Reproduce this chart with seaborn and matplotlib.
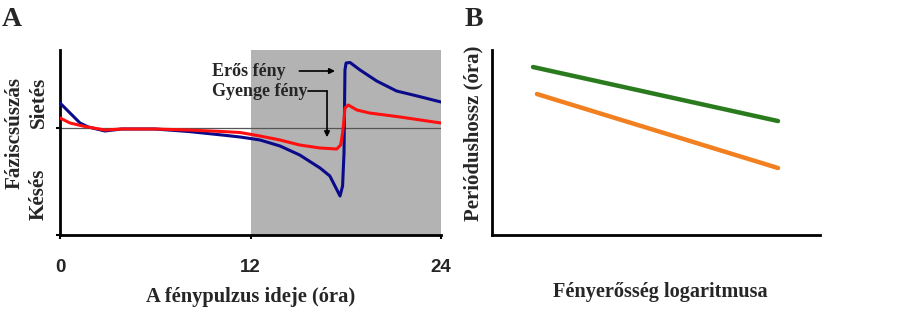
import matplotlib
matplotlib.use("Agg")
import matplotlib.pyplot as plt
import seaborn as sns

sns.set_style("white")
plt.rcParams['font.family'] = ['Liberation Serif', 'DejaVu Serif']
plt.rcParams['font.weight'] = 'bold'

# Panel A data: phase response curves
t_strong = [0, 0.63, 1.26, 1.78, 2.83, 3.88, 5.98, 8.1, 10.2, 11.34, 12.2, 12.6, 13.86, 15.1, 16.38,
            17.0, 17.32, 17.64, 17.8, 17.89, 17.95, 18.02, 18.27, 18.9, 19.95, 21.2, 22.5, 24.0]
y_strong = [0.25, 0.15, 0.05, 0.01, -0.03, -0.01, -0.01, -0.035, -0.07, -0.09, -0.11, -0.12, -0.18, -0.27, -0.40,
            -0.48, -0.58, -0.68, -0.58, -0.25, 0.58, 0.65, 0.655, 0.58, 0.47, 0.37, 0.32, 0.26]
t_weak = [0, 0.63, 1.57, 2.83, 3.88, 5.98, 8.1, 10.2, 11.34, 12.6, 13.86, 15.1, 16.38, 17.43, 17.68,
          17.8, 17.89, 17.95, 18.16, 18.7, 19.5, 21.2, 24.0]
y_weak = [0.10, 0.05, 0.015, -0.02, -0.01, -0.01, -0.02, -0.035, -0.045, -0.08, -0.12, -0.17, -0.20, -0.21, -0.17,
          -0.05, 0.08, 0.20, 0.23, 0.18, 0.15, 0.115, 0.05]

# Panel B data: period length vs log light intensity
b_x_green = [1.25, 8.72]
b_y_green = [9.08, 6.16]
b_x_orange = [1.37, 8.72]
b_y_orange = [7.62, 3.62]

W, H = 905, 327
fig = plt.figure(figsize=(W / 100, H / 100), dpi=100)

def ax_rect(x0, y0, x1, y1):
    return [x0 / W, 1 - y1 / H, (x1 - x0) / W, (y1 - y0) / H]

# ---------------- Panel A ----------------
axA = fig.add_axes(ax_rect(60, 50, 441, 235))
axA.axvspan(12, 24, color='#b3b3b3', zorder=0, lw=0)
axA.axhline(0, color='#555555', lw=0.9, zorder=1)
sns.lineplot(x=t_strong, y=y_strong, ax=axA, color='#0a0a8a', lw=2.2, zorder=3, sort=False)
sns.lineplot(x=t_weak, y=y_weak, ax=axA, color='#ff1010', lw=2.2, zorder=4, sort=False)
axA.set_xlim(0, 24)
axA.set_ylim(-1.07, 0.78)
axA.set_xticks([0, 12, 24])
axA.set_xticklabels(['0', '12', '24'], fontsize=13.5, fontweight='bold', family=['Liberation Sans', 'DejaVu Sans'])
axA.set_yticks([-1.07, 0])
axA.set_yticklabels([])
axA.tick_params(axis='both', direction='out', length=3, width=1.5, color='black', bottom=True, left=True, pad=14)
for s in ['top', 'right']:
    axA.spines[s].set_visible(False)
for s in ['left', 'bottom']:
    axA.spines[s].set_color('black')
    axA.spines[s].set_linewidth(2)
axA.set_xlabel('A fénypulzus ideje (óra)', fontsize=14.8, fontweight='bold', labelpad=8)
axA.set_ylabel('')

fig.text(15 / W, 1 - 133 / H, 'Fáziscsúszás', rotation=90, ha='center', va='center', fontsize=15.2, fontweight='bold')
fig.text(39 / W, 1 - 102 / H, 'Sietés', rotation=90, ha='center', va='center', fontsize=15.2, fontweight='bold')
fig.text(39 / W, 1 - 194 / H, 'Késés', rotation=90, ha='center', va='center', fontsize=15.2, fontweight='bold')

axA.annotate('', xy=(17.5, 0.57), xytext=(14.9, 0.57),
             arrowprops=dict(arrowstyle='-|>', color='black', lw=1.2, mutation_scale=8))
axA.text(9.57, 0.57, 'Erős fény', ha='left', va='center', fontsize=13, fontweight='bold')
axA.text(9.57, 0.37, 'Gyenge fény', ha='left', va='center', fontsize=13, fontweight='bold')
axA.plot([15.6, 16.82], [0.37, 0.37], color='black', lw=1.2)
axA.annotate('', xy=(16.82, -0.12), xytext=(16.82, 0.37),
             arrowprops=dict(arrowstyle='-|>', color='black', lw=1.2, mutation_scale=8, shrinkA=0))

fig.text(2 / W, 1 - 19 / H, 'A', ha='left', va='center', fontsize=20, fontweight='bold')

# ---------------- Panel B ----------------
axB = fig.add_axes(ax_rect(492, 50, 820, 235))
sns.lineplot(x=b_x_green, y=b_y_green, ax=axB, color='#2a7a1e', lw=3.2)
sns.lineplot(x=b_x_orange, y=b_y_orange, ax=axB, color='#f28020', lw=3.2)
axB.set_xlim(0, 10)
axB.set_ylim(0, 10)
axB.set_xticks([])
axB.set_yticks([])
for s in ['top', 'right']:
    axB.spines[s].set_visible(False)
for s in ['left', 'bottom']:
    axB.spines[s].set_color('black')
    axB.spines[s].set_linewidth(2)
axB.set_xlabel('Fényerősség logaritmusa', fontsize=14.6, fontweight='bold')
axB.set_ylabel('Periódushossz (óra)', fontsize=15, fontweight='bold')
axB.xaxis.set_label_coords(0.512, -(292 - 235) / 185, transform=axB.transAxes)
axB.xaxis.label.set_va('center')
axB.yaxis.set_label_coords(-(492 - 473) / 328, (235 - 133.5) / 185, transform=axB.transAxes)
axB.yaxis.label.set_va('center')

fig.text(465 / W, 1 - 19 / H, 'B', ha='left', va='center', fontsize=20, fontweight='bold')

fig.savefig('out.png', dpi=100)
